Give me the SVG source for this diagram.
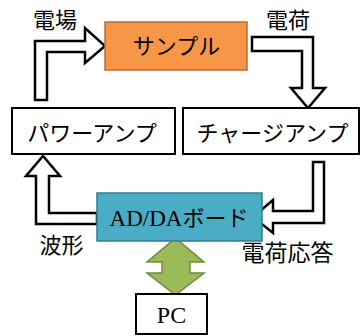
<svg xmlns="http://www.w3.org/2000/svg" width="361" height="336" viewBox="0 0 361 336">
<style>
.box{fill:#fff;stroke:#000;stroke-width:2}
.jp{font-family:"Noto Sans CJK JP","Noto Sans CJK SC",sans-serif;font-size:22px;fill:#000;text-anchor:middle}
.ser{font-family:"Liberation Serif","Noto Sans CJK JP",serif;font-size:23px;fill:#000;text-anchor:middle}
.barrow{fill:#fff;stroke:#000;stroke-width:2.5;stroke-linejoin:miter}
</style>
<rect width="361" height="336" fill="#fff"/>
<g id="connectors">
<path class="barrow" d="M35,100 L35,41 L85,41 L85,28 L105,46 L85,63 L85,52 L47,52 L47,100 Z"/>
<path class="barrow" d="M252,37 L313,37 L313,88 L325,88 L308,108 L291,88 L302,88 L302,51 L252,51 Z"/>
<path class="barrow" d="M313,162 L324,162 L324,223 L273,223 L273,233 L253,217 L273,200 L273,211 L313,211 Z"/>
<path class="barrow" d="M97,224 L36,224 L36,176 L26,176 L43,156 L60,176 L49,176 L49,213 L97,213 Z"/>
<path d="M175.5,238 L204,262 L190,262 L190,273 L204,273 L175.5,295 L147,273 L162,273 L162,262 L147,262 Z" fill="#9BBB59" stroke="#71893F" stroke-width="1.5"/>
<text class="jp" x="55" y="28">電場</text>
<text class="jp" x="288" y="28">電荷</text>
<text class="jp" x="61.5" y="253">波形</text>
<text class="jp" x="287.5" y="261" style="font-size:23px">電荷応答</text>
</g>
<g id="sample">
<rect x="105" y="22" width="142" height="48" fill="#F79646" stroke="#B66D31" stroke-width="1.5"/>
<text class="jp" x="176.5" y="54">サンプル</text>
</g>
<g id="power-amp">
<rect class="box" x="12" y="108" width="163" height="46"/>
<text class="jp" x="92" y="141">パワーアンプ</text>
</g>
<g id="charge-amp">
<rect class="box" x="183" y="108" width="176" height="46"/>
<text class="jp" x="272.5" y="141">チャージアンプ</text>
</g>
<g id="adda">
<rect x="97" y="193" width="165" height="48" fill="#4BACC6" stroke="#357D91" stroke-width="1.5"/>
<text class="ser" x="179" y="226">AD/DA<tspan style="font-family:'Noto Sans CJK JP',sans-serif;font-size:22px">ボード</tspan></text>
</g>
<g id="pc">
<rect class="box" x="136" y="294" width="71" height="40"/>
<text class="ser" x="171.5" y="323" style="font-size:24px">PC</text>
</g>
</svg>
